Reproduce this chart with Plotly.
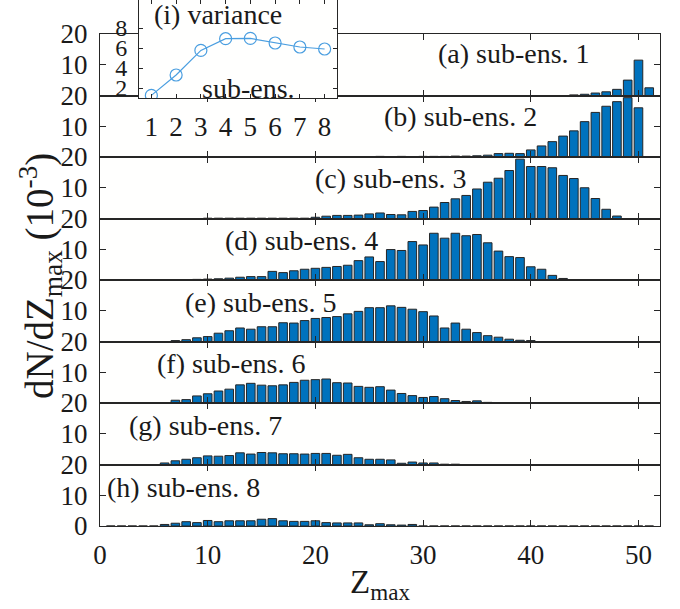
import plotly.graph_objects as go

# Bin centres of Z_max histograms
z_bins = list(range(1, 52))

# dN/dZ_max (1e-3) for each sub-ensemble, bins z = 1..51
sub_ens_1 = [0, 0, 0, 0, 0, 0, 0, 0, 0, 0,
             0, 0, 0, 0, 0, 0, 0, 0, 0, 0,
             0, 0, 0, 0, 0, 0, 0, 0, 0, 0,
             0, 0, 0, 0, 0, 0, 0, 0, 0, 0,
             0, 0, 0, 0.2, 0.4, 0.8, 1.2, 2.0, 5.0, 11.5,
             2.5]
sub_ens_2 = [0, 0, 0, 0, 0, 0, 0, 0, 0, 0,
             0, 0, 0, 0, 0, 0, 0, 0, 0, 0,
             0, 0, 0, 0.1, 0.1, 0.2, 0.1, 0.2, 0.1, 0.2,
             0.2, 0.2, 0.3, 0.3, 0.4, 0.6, 1.1, 1.2, 1.1, 2.3,
             3.6, 5.0, 6.8, 8.5, 11.5, 14.5, 16.5, 18.0, 19.3, 16.0,
             0]
sub_ens_3 = [0, 0, 0, 0, 0, 0, 0, 0, 0, 0.1,
             0.1, 0.1, 0.1, 0.1, 0.1, 0.1, 0.1, 0.1, 0.1, 0.4,
             0.75, 1.0, 1.0, 1.1, 1.5, 1.8, 1.3, 1.2, 2.3, 2.6,
             3.7, 5.2, 6.4, 7.5, 9.6, 11.8, 13.1, 15.6, 19.3, 16.9,
             16.9, 16.5, 14.0, 13.0, 10.0, 6.5, 3.0, 0.8, 0, 0,
             0]
sub_ens_4 = [0, 0, 0, 0, 0, 0, 0, 0, 0.2, 0.3,
             0.4, 0.6, 0.9, 1.1, 1.1, 2.8, 2.4, 3.0, 3.5, 3.8,
             4.1, 4.4, 4.8, 6.3, 7.5, 6.0, 9.9, 9.6, 12.5, 11.4,
             15.2, 13.6, 15.2, 14.4, 14.8, 12.1, 9.4, 7.6, 7.3, 4.3,
             3.5, 1.5, 0.5, 0, 0, 0, 0, 0, 0, 0,
             0]
sub_ens_5 = [0, 0, 0, 0, 0, 0, 0.3, 0.6, 1.2, 1.6,
             2.7, 3.5, 4.4, 4.0, 4.8, 4.8, 6.1, 6.0, 6.8, 7.5,
             7.8, 8.1, 9.0, 9.8, 11.0, 11.0, 11.6, 11.1, 10.5, 9.7,
             8.3, 4.4, 6.0, 4.0, 2.9, 1.9, 1.4, 0.75, 0.4, 0.3,
             0, 0, 0, 0, 0, 0, 0, 0, 0, 0,
             0]
sub_ens_6 = [0, 0, 0, 0, 0, 0, 0.9, 1.1, 2.3, 3.0,
             3.9, 4.5, 5.9, 6.4, 5.8, 5.6, 5.9, 6.7, 7.4, 7.6,
             7.8, 6.6, 6.5, 5.4, 5.1, 5.3, 4.2, 3.1, 2.4, 1.8,
             2.1, 1.4, 0.8, 0.5, 0.7, 0.2, 0, 0, 0, 0,
             0, 0, 0, 0, 0, 0, 0, 0, 0, 0,
             0]
sub_ens_7 = [0, 0, 0, 0, 0, 0.5, 1.2, 1.7, 2.2, 2.8,
             2.7, 2.9, 3.8, 3.4, 3.9, 3.8, 3.5, 3.5, 3.4, 3.6,
             3.6, 3.0, 3.3, 2.2, 1.7, 1.7, 1.5, 0.4, 0.8, 0.5,
             0.5, 0.1, 0.1, 0, 0, 0, 0, 0, 0, 0,
             0, 0, 0, 0, 0, 0, 0, 0, 0, 0,
             0]
sub_ens_8 = [0, 0, 0, 0, 0, 0.5, 0.9, 1.4, 1.1, 1.8,
             1.4, 1.7, 1.7, 1.7, 2.2, 2.4, 1.7, 1.5, 1.5, 1.7,
             1.1, 1.0, 1.0, 1.0, 0.4, 0.75, 0.4, 0.3, 0.5, 0,
             0, 0, 0, 0, 0, 0, 0, 0, 0, 0,
             0, 0, 0, 0, 0, 0, 0, 0, 0, 0,
             0]

panel_series = [sub_ens_1, sub_ens_2, sub_ens_3, sub_ens_4,
                sub_ens_5, sub_ens_6, sub_ens_7, sub_ens_8]
panel_labels = ["(a) sub-ens. 1", "(b) sub-ens. 2", "(c) sub-ens. 3",
                "(d) sub-ens. 4", "(e) sub-ens. 5", "(f) sub-ens. 6",
                "(g) sub-ens. 7", "(h) sub-ens. 8"]

# Inset: variance per sub-ensemble
inset_sub_ens = [1, 2, 3, 4, 5, 6, 7, 8]
inset_variance = [1.26, 3.3, 5.76, 6.93, 6.96, 6.5, 6.1, 5.9]

x_ticks = [0, 10, 20, 30, 40, 50]

# ---- geometry (pixels) ----
W, H = 680, 609
ML, MR, MT, MB = 100, 20, 0, 83
PW = W - ML - MR           # 560
PH = H - MT - MB           # 526
PANEL_TOP = 34             # top of panel (a)
PANEL_H = 61.5


def px_x(px):
    return (px - ML) / PW


def px_y(py):
    return (MT + PH - py) / PH


FONT = "Liberation Serif"
TXT = "#1a1a1a"
AX_COLOR = "#262626"
BAR_COLOR = "#0072BD"
LINE_BLUE = "#4A9EE0"
TICK_SIZE = 27
LABEL_SIZE = 28

fig = go.Figure()
layout = dict(
    width=W, height=H,
    margin=dict(l=ML, r=MR, t=MT, b=MB, pad=0, autoexpand=False),
    paper_bgcolor="white",
    plot_bgcolor="#FFFFFE",
    showlegend=False,
    font=dict(family=FONT, size=TICK_SIZE, color=TXT),
    annotations=[],
)

for k, vals in enumerate(panel_series):
    idx = k + 1
    xa = "x" if idx == 1 else f"x{idx}"
    ya = "y" if idx == 1 else f"y{idx}"
    fig.add_trace(go.Bar(
        x=z_bins, y=vals, width=0.8,
        marker=dict(color=BAR_COLOR, line=dict(color=AX_COLOR, width=1)),
        xaxis=xa, yaxis=ya, hoverinfo="skip",
    ))
    top_px = PANEL_TOP + PANEL_H * k
    bot_px = top_px + PANEL_H
    last = (k == len(panel_series) - 1)
    layout[f"xaxis{'' if idx == 1 else idx}"] = dict(
        domain=[0, 1], range=[0, 52], anchor=ya,
        tickvals=x_ticks, ticks="inside", ticklen=6, tickwidth=1,
        tickcolor=AX_COLOR, showline=True, linecolor=AX_COLOR, linewidth=1,
        mirror="ticks", showgrid=False, zeroline=False,
        showticklabels=last, ticklabelstandoff=5, automargin=False,
        tickfont=dict(family=FONT, size=TICK_SIZE, color=TXT),
    )
    layout[f"yaxis{'' if idx == 1 else idx}"] = dict(
        domain=[px_y(bot_px), px_y(top_px)], range=[0, 20], anchor=xa,
        tickvals=[0, 10, 20] if last else [10, 20],
        ticks="inside", ticklen=6, tickwidth=1, tickcolor=AX_COLOR,
        showline=True, linecolor=AX_COLOR, linewidth=1, mirror="ticks",
        showgrid=False, zeroline=False, ticklabelstandoff=6, automargin=False,
        tickfont=dict(family=FONT, size=TICK_SIZE, color=TXT),
    )

# Panel labels
label_pos = [(436, 53), (382, 117), (313, 178), (223, 240),
             (183, 302), (155, 364), (127, 425), (105, 487)]
for text, (lx, ly) in zip(panel_labels, label_pos):
    layout["annotations"].append(dict(
        text=text, x=px_x(lx), y=px_y(ly), xref="paper", yref="paper",
        xanchor="left", yanchor="middle", showarrow=False,
        font=dict(family=FONT, size=LABEL_SIZE, color=TXT),
    ))

# Inset axes (drawn last so its background covers the panel beneath)
fig.add_trace(go.Scatter(
    x=inset_sub_ens, y=inset_variance, mode="lines+markers",
    line=dict(color=LINE_BLUE, width=1.2),
    marker=dict(symbol="circle-open", size=12, color=LINE_BLUE,
                line=dict(width=1.2, color=LINE_BLUE)),
    xaxis="x9", yaxis="y9", hoverinfo="skip",
))
layout["xaxis9"] = dict(
    domain=[px_x(139), px_x(337)], range=[0.5, 8.5], anchor="y9",
    tickvals=inset_sub_ens, ticks="inside", ticklen=4, tickcolor=AX_COLOR,
    showline=True, linecolor=AX_COLOR, linewidth=1, mirror="ticks",
    showgrid=False, zeroline=False, ticklabelstandoff=5, automargin=False,
    tickfont=dict(family=FONT, size=TICK_SIZE, color=TXT),
)
layout["yaxis9"] = dict(
    domain=[px_y(98), 1.0], range=[1, 10.8], anchor="x9",
    tickvals=[2, 4, 6, 8], ticks="inside", ticklen=4, tickcolor=AX_COLOR,
    showline=True, linecolor=AX_COLOR, linewidth=1, mirror="ticks",
    showgrid=False, zeroline=False, ticklabelstandoff=6, automargin=False,
    tickfont=dict(family=FONT, size=24, color=TXT),
)
layout["annotations"].append(dict(
    text="(i) variance", x=px_x(152), y=px_y(15), xref="paper", yref="paper",
    xanchor="left", yanchor="middle", showarrow=False,
    font=dict(family=FONT, size=LABEL_SIZE, color=TXT),
))
layout["annotations"].append(dict(
    text="sub-ens.", x=px_x(200), y=px_y(88), xref="paper", yref="paper",
    xanchor="left", yanchor="middle", showarrow=False,
    font=dict(family=FONT, size=LABEL_SIZE, color=TXT),
))

# Axis titles
layout["annotations"].append(dict(
    text="dN/dZ<sub>max</sub> (10<sup>-3</sup>)", textangle=-90,
    x=px_x(40), y=px_y(276), xref="paper", yref="paper",
    xanchor="center", yanchor="middle", showarrow=False,
    font=dict(family=FONT, size=39, color=TXT),
))
layout["annotations"].append(dict(
    text="Z<sub>max</sub>", x=px_x(380), y=px_y(584),
    xref="paper", yref="paper", xanchor="center", yanchor="middle",
    showarrow=False, font=dict(family=FONT, size=33, color=TXT),
))

fig.update_layout(**layout)
fig.write_html("out.html")
